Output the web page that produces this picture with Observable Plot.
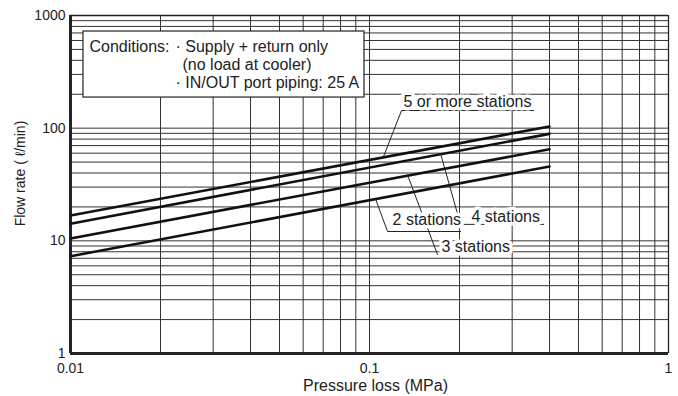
<!DOCTYPE html>
<html><head><meta charset="utf-8">
<script src="https://cdn.jsdelivr.net/npm/d3@7"></script>
<script src="https://cdn.jsdelivr.net/npm/@observablehq/plot@0.6"></script>
<style>body{margin:0;background:#fff} #chart{width:678px;height:396px;overflow:hidden}</style>
</head><body><div id="chart"></div>
<script>
// ---- data ----
const pressure = [0.01, 0.4];                 // MPa (line end points)
const flow2 = [7.3, 45.7];                    // 2 stations
const flow3 = [10.5, 65.0];                   // 3 stations
const flow4 = [14.2, 89.0];                   // 4 stations
const flow5 = [16.8, 103.5];                  // 5 or more stations
const seriesNames = ["2 stations", "3 stations", "4 stations", "5 or more stations"];
const xTickValues = [0.01, 0.1, 1];
const xTickLabels = ["0.01", "0.1", "1"];
const yTickValues = [1, 10, 100, 1000];
const yTickLabels = ["1", "10", "100", "1000"];
const conditionLines = ["Conditions:", "· Supply + return only", "(no load at cooler)", "· IN/OUT port piping: 25 A"];
const xTitle = "Pressure loss (MPa)";
const yTitle = "Flow rate ( ℓ/min)";

// ---- annotation anchors (data units) ----
const labelX = [0.1185, 0.1728, 0.2177, 0.1289];
const labelY = [13.7, 7.88, 14.55, 155.7];
const leaderStartX = [0.1048, 0.134, 0.173, 0.1114];
const leaderStartY = [23.5, 38.4, 59, 56];
const leaderCornerX = [0.1149, 0.1688, 0.2015, 0.128];
const leaderCornerY = [12.1, 7.57, 14.0, 143.5];
const underlineEndX = [0.2015, null, 0.382, 0.3535];
const boxX = [0.01105, 0.0962];
const boxY = [187, 721];

// ---- build tables ----
const series = [flow2, flow3, flow4, flow5];
const lineData = series.flatMap((vals, i) => pressure.map((p, j) => ({p, q: vals[j], s: seriesNames[i]})));
const leaders = [];
seriesNames.forEach((s, i) => {
  leaders.push({s, x: leaderStartX[i], y: leaderStartY[i]});
  leaders.push({s, x: leaderCornerX[i], y: leaderCornerY[i]});
  if (underlineEndX[i] != null) leaders.push({s, x: underlineEndX[i], y: leaderCornerY[i]});
});
const labels = seriesNames.map((s, i) => ({s, x: labelX[i], y: labelY[i]}));
const decadesX = [0.01, 0.1];
const xGrid = decadesX.flatMap(d => d3.range(1, 10).map(k => +(k * d).toPrecision(3))).concat([1]);
const decadesY = [1, 10, 100];
const yGrid = decadesY.flatMap(d => d3.range(1, 10).map(k => k * d)).concat([1000]);

const font = "'Liberation Sans', Arial, Helvetica, sans-serif";
const chart = Plot.plot({
  width: 678, height: 396,
  marginLeft: 70, marginRight: 10, marginTop: 15, marginBottom: 43,
  style: {fontFamily: font, fontSize: "14px", color: "#222", background: "#fff", overflow: "visible"},
  x: {type: "log", domain: [0.01, 1]},
  y: {type: "log", domain: [1, 1000]},
  marks: [
    Plot.ruleX(xGrid, {stroke: "#333", strokeWidth: 1}),
    Plot.ruleY(yGrid, {stroke: "#333", strokeWidth: 1}),
    Plot.ruleX([1], {stroke: "#222", strokeWidth: 1.3}),
    Plot.ruleY([1000], {stroke: "#222", strokeWidth: 1.3}),
    Plot.ruleX([0.01], {stroke: "#222", strokeWidth: 3}),
    Plot.ruleY([1], {stroke: "#222", strokeWidth: 3}),
    Plot.axisX(xTickValues, {tickSize: 0, tickPadding: 10, tickFormat: d => xTickLabels[xTickValues.indexOf(d)], label: null, fontSize: 14}),
    Plot.axisY(yTickValues, {tickSize: 0, tickPadding: 5, tickFormat: d => yTickLabels[yTickValues.indexOf(d)], label: null, fontSize: 14}),
    Plot.line(lineData, {x: "p", y: "q", z: "s", stroke: "#111", strokeWidth: 2.6}),
    Plot.rect([0], {x1: () => boxX[0], x2: () => boxX[1], y1: () => boxY[0], y2: () => boxY[1], fill: "#fff", stroke: "#222", strokeWidth: 1.2}),
    Plot.text([conditionLines[0]], {frameAnchor: "top-left", dx: 19, dy: 36, textAnchor: "start", lineAnchor: "bottom", fontSize: 16, fill: "#222"}),
    Plot.text([conditionLines[1]], {frameAnchor: "top-left", dx: 105, dy: 36, textAnchor: "start", lineAnchor: "bottom", fontSize: 16, fill: "#222"}),
    Plot.text([conditionLines[2]], {frameAnchor: "top-left", dx: 112, dy: 54, textAnchor: "start", lineAnchor: "bottom", fontSize: 16, fill: "#222"}),
    Plot.text([conditionLines[3]], {frameAnchor: "top-left", dx: 105, dy: 72, textAnchor: "start", lineAnchor: "bottom", fontSize: 16, fill: "#222"}),
    Plot.line(leaders, {x: "x", y: "y", z: "s", stroke: "#222", strokeWidth: 1}),
    Plot.text(labels, {x: "x", y: "y", text: "s", textAnchor: "start", lineAnchor: "bottom", fontSize: 16, fill: "#222", stroke: "#fff", strokeWidth: 7, dx: 1}),
    Plot.text([xTitle], {frameAnchor: "bottom", dx: 6, dy: 32, textAnchor: "middle", lineAnchor: "middle", fontSize: 16, fill: "#222"}),
    Plot.text([yTitle], {frameAnchor: "left", dx: -50, dy: -11, rotate: -90, textAnchor: "middle", lineAnchor: "middle", fontSize: 14, fill: "#222"})
  ]
});
document.getElementById("chart").append(chart);
</script>
</body></html>
